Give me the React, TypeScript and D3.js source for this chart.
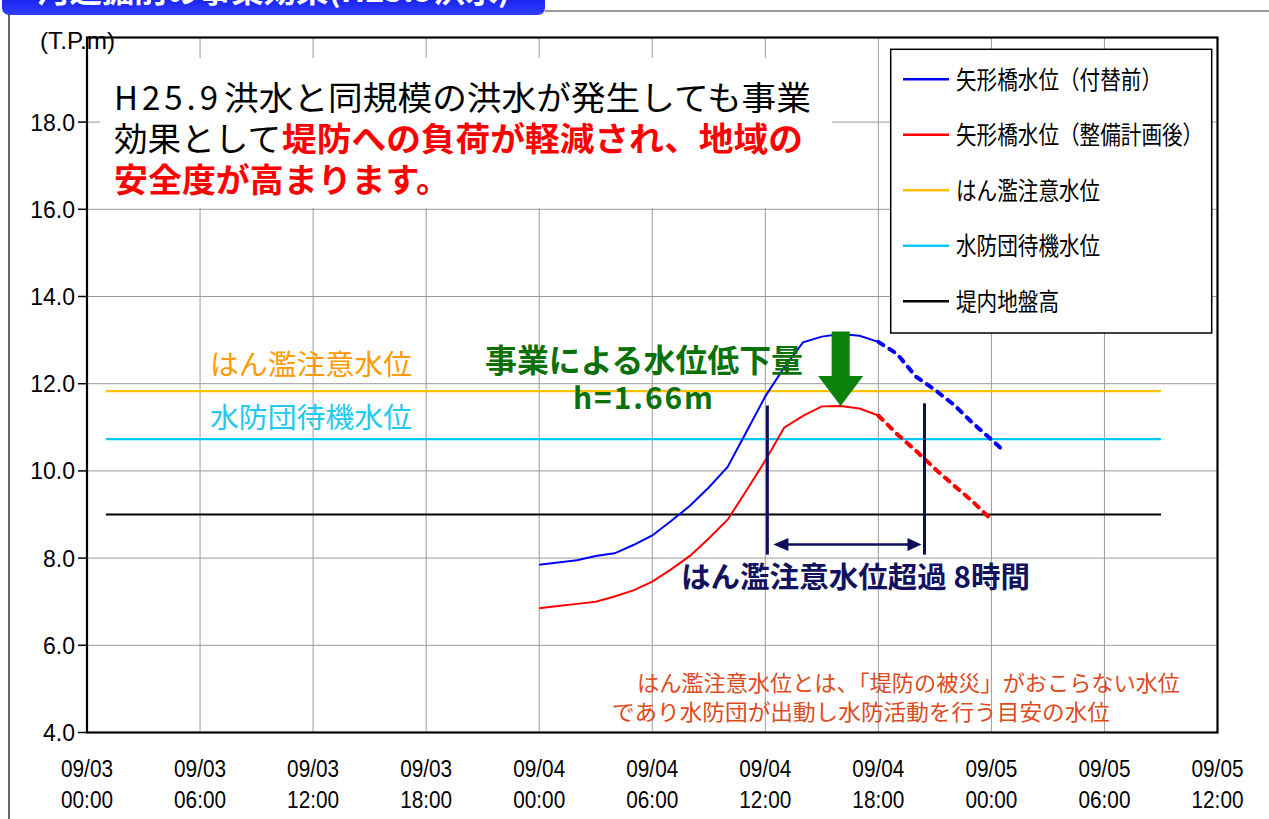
import React from 'react';
import * as d3 from 'd3';

// ---------- data ----------
const xTickHours = [0, 6, 12, 18, 24, 30, 36, 42, 48, 54, 60];
const xTickDates = ['09/03', '09/03', '09/03', '09/03', '09/04', '09/04', '09/04', '09/04', '09/05', '09/05', '09/05'];
const xTickTimes = ['00:00', '06:00', '12:00', '18:00', '00:00', '06:00', '12:00', '18:00', '00:00', '06:00', '12:00'];
const yTicks = [4, 6, 8, 10, 12, 14, 16, 18];
const yTickLabels = ['4.0', '6.0', '8.0', '10.0', '12.0', '14.0', '16.0', '18.0'];

// hours from 09/03 00:00
const beforeHours = [24, 25, 26, 27, 28, 29, 30, 31, 32, 33, 34, 35, 36, 37, 38, 39, 40, 41, 42];
const beforeLevel = [7.85, 7.9, 7.95, 8.05, 8.11, 8.3, 8.52, 8.85, 9.2, 9.62, 10.09, 10.9, 11.71, 12.37, 12.95, 13.08, 13.14, 13.1, 12.96];
const beforeForecastHours = [42, 43, 44, 45, 46, 47, 48, 48.5];
const beforeForecastLevel = [12.96, 12.68, 12.16, 11.86, 11.52, 11.1, 10.72, 10.52];

const afterHours = [24, 25, 26, 27, 28, 29, 30, 31, 32, 33, 34, 35, 36, 37, 38, 39, 40, 41, 42];
const afterLevel = [6.85, 6.9, 6.95, 7.0, 7.12, 7.26, 7.46, 7.74, 8.05, 8.45, 8.88, 9.55, 10.24, 10.99, 11.26, 11.48, 11.49, 11.43, 11.27];
const afterForecastHours = [42, 43, 44, 45, 46, 47, 48];
const afterForecastLevel = [11.27, 10.84, 10.46, 10.05, 9.67, 9.3, 8.88];

const refLineHours = [1, 57];
const warningLevel = 11.83; // はん濫注意水位
const standbyLevel = 10.73; // 水防団待機水位
const groundLevel = 9.0; // 堤内地盤高

const legendLabels = ['矢形橋水位（付替前）', '矢形橋水位（整備計画後）', 'はん濫注意水位', '水防団待機水位', '堤内地盤高'];
const legendColors = ['#0000FF', '#FF0000', '#FFC000', '#00C8FF', '#000000'];

const exceedStartHour = 36.11;
const exceedEndHour = 44.45;
const reductionHour = 40;
const reductionTop = 13.2;
const reductionBottom = 11.49;

// ---------- layout ----------
const W = 1269;
const H = 819;
const JP = '"Noto Sans CJK JP", "Noto Sans", sans-serif';
const LAT = '"Liberation Sans", Arial, sans-serif';

export default function App() {
  const x = d3.scaleLinear().domain([0, 60]).range([87, 1217.5]);
  const y = d3.scaleLinear().domain([4, 18]).range([732.5, 122.1]);
  const plotTop = y(19.94);
  const plotBottom = y(4);
  const plotLeft = x(0);
  const plotRight = x(60);

  const line = d3
    .line<[number, number]>()
    .x((d) => x(d[0]))
    .y((d) => y(d[1]));
  const zip = (hs: number[], vs: number[]) => hs.map((h, i) => [h, vs[i]] as [number, number]);

  const refLines = [
    { v: warningLevel, c: '#FFC000', w: 2.2 },
    { v: standbyLevel, c: '#00C8FF', w: 2.2 },
    { v: groundLevel, c: '#000000', w: 2 },
  ];

  const xs = x(exceedStartHour);
  const xe = x(exceedEndHour);
  const ay = y(8.31);
  const ax = x(reductionHour);
  const aTop = y(reductionTop);
  const aTip = y(reductionBottom);
  const headLen = 30;

  return (
    <svg
      width={W}
      height={H}
      style={{ position: 'absolute', left: 0, top: 0, background: '#fff' }}
      xmlns="http://www.w3.org/2000/svg"
    >
      <defs>
        <linearGradient id="tb" x1="0" y1="0" x2="0" y2="1">
          <stop offset="0" stopColor="#0000D8" />
          <stop offset="1" stopColor="#3040FF" />
        </linearGradient>
      </defs>
      <rect x={0} y={0} width={W} height={H} fill="#fff" />

      {/* outer frame */}
      <line x1={545} x2={W} y1={11} y2={11} stroke="#333" strokeWidth={1.2} />
      <line x1={9} x2={9} y1={14} y2={H} stroke="#333" strokeWidth={1.5} />
      <rect x={2} y={-20} width={543} height={35} rx={7} fill="url(#tb)" />
      <text x={37} y={2} fill="#fff" fontFamily={JP} fontWeight="bold" fontSize={30} textLength={473} lengthAdjust="spacingAndGlyphs">
        河道掘削の事業効果(H25.9洪水)
      </text>

      {/* grid */}
      {yTicks.slice(1).map((t) => (
        <line key={'gy' + t} x1={plotLeft} x2={plotRight} y1={y(t)} y2={y(t)} stroke="#9a9a9a" strokeWidth={1} />
      ))}
      {xTickHours.slice(1, -1).map((h) => (
        <line key={'gx' + h} x1={x(h)} x2={x(h)} y1={plotTop} y2={plotBottom} stroke="#9a9a9a" strokeWidth={1} />
      ))}
      {yTicks.map((t) => (
        <line key={'ty' + t} x1={plotLeft - 9} x2={plotLeft} y1={y(t)} y2={y(t)} stroke="#000" strokeWidth={1.5} />
      ))}

      {/* reference lines */}
      {refLines.map((r) => (
        <line key={'r' + r.v} x1={x(refLineHours[0])} x2={x(refLineHours[1])} y1={y(r.v)} y2={y(r.v)} stroke={r.c} strokeWidth={r.w} />
      ))}

      {/* series */}
      <path d={line(zip(beforeHours, beforeLevel)) || ''} fill="none" stroke="#0000FF" strokeWidth={2} />
      <path d={line(zip(beforeForecastHours, beforeForecastLevel)) || ''} fill="none" stroke="#0000FF" strokeWidth={4} strokeDasharray="6 7" strokeLinecap="round" />
      <path d={line(zip(afterHours, afterLevel)) || ''} fill="none" stroke="#FF0000" strokeWidth={2} />
      <path d={line(zip(afterForecastHours, afterForecastLevel)) || ''} fill="none" stroke="#FF0000" strokeWidth={4} strokeDasharray="6 7" strokeLinecap="round" />

      {/* plot frame */}
      <rect x={plotLeft} y={plotTop} width={plotRight - plotLeft} height={plotBottom - plotTop} fill="none" stroke="#000" strokeWidth={2.2} />

      {/* axis labels */}
      <text x={40} y={49} fontFamily={LAT} fontSize={24} fill="#000" textLength={75} lengthAdjust="spacingAndGlyphs">(T.P.m)</text>
      {yTicks.map((t, i) => (
        <text key={'yl' + t} x={75} y={y(t) + 8.5} textAnchor="end" fontFamily={LAT} fontSize={23} fill="#000">
          {yTickLabels[i]}
        </text>
      ))}
      {xTickHours.map((h, i) => (
        <g key={'xl' + h}>
          <text x={x(h)} y={777} textAnchor="middle" fontFamily={LAT} fontSize={23.5} fill="#000" textLength={52} lengthAdjust="spacingAndGlyphs">
            {xTickDates[i]}
          </text>
          <text x={x(h)} y={808} textAnchor="middle" fontFamily={LAT} fontSize={23.5} fill="#000" textLength={52} lengthAdjust="spacingAndGlyphs">
            {xTickTimes[i]}
          </text>
        </g>
      ))}

      {/* message box */}
      <rect x={100} y={58} width={732} height={150} fill="#fff" />
      <text x={114} y={110} fontFamily={JP} fontSize={33} fill="#000" textLength={104} lengthAdjust="spacing">H25.9</text>
      <text x={224} y={110} fontFamily={JP} fontSize={33} fill="#000" textLength={587} lengthAdjust="spacingAndGlyphs">洪水と同規模の洪水が発生しても事業</text>
      <text x={114} y={151} fontFamily={JP} fontSize={33} fill="#000" textLength={167} lengthAdjust="spacingAndGlyphs">効果として</text>
      <text x={282} y={151} fontFamily={JP} fontSize={33} fontWeight="bold" fill="#FF0000" textLength={521} lengthAdjust="spacingAndGlyphs">堤防への負荷が軽減され、地域の</text>
      <text x={114} y={192} fontFamily={JP} fontSize={33} fontWeight="bold" fill="#FF0000" textLength={336} lengthAdjust="spacingAndGlyphs">安全度が高まります。</text>

      {/* legend */}
      <rect x={890.7} y={49.3} width={321} height={283.7} fill="#fff" stroke="#000" strokeWidth={1.5} />
      {legendLabels.map((l, i) => {
        const ry = 79.3 + i * 55.5;
        return (
          <g key={'lg' + i}>
            <line x1={903} x2={949} y1={ry} y2={ry} stroke={legendColors[i]} strokeWidth={2.5} />
            <text x={956} y={ry + 9.5} fontFamily={JP} fontSize={25} fill="#000" textLength={l.length * 20.6} lengthAdjust="spacingAndGlyphs">
              {l}
            </text>
          </g>
        );
      })}

      {/* level labels */}
      <text x={210} y={374.6} fontFamily={JP} fontSize={28} fill="#FF9A00" textLength={202} lengthAdjust="spacingAndGlyphs">はん濫注意水位</text>
      <text x={210} y={427.6} fontFamily={JP} fontSize={28} fill="#22C8F0" textLength={202} lengthAdjust="spacingAndGlyphs">水防団待機水位</text>

      {/* reduction annotation */}
      <text x={485} y={372} fontFamily={JP} fontSize={32} fontWeight="bold" fill="#0A700A" textLength={318} lengthAdjust="spacingAndGlyphs">事業による水位低下量</text>
      <text x={573} y={409} fontFamily={JP} fontSize={30} fontWeight="bold" fill="#0A700A" textLength={140} lengthAdjust="spacing">h=1.66m</text>
      <path
        d={`M${ax - 9},${aTop} L${ax + 9},${aTop} L${ax + 9},${aTip - headLen} L${ax + 22.5},${aTip - headLen} L${ax},${aTip} L${ax - 22.5},${aTip - headLen} L${ax - 9},${aTip - headLen} Z`}
        fill="#0B800B"
      />

      {/* exceedance annotation */}
      <line x1={xs} x2={xs} y1={y(11.5)} y2={y(8.08)} stroke="#0D0D5E" strokeWidth={3} />
      <line x1={xe} x2={xe} y1={y(11.55)} y2={y(8.08)} stroke="#0D0D5E" strokeWidth={3} />
      <line x1={xs + 15} x2={xe - 15} y1={ay} y2={ay} stroke="#0D0D5E" strokeWidth={2.5} />
      <path d={`M${xs + 6},${ay} L${xs + 21},${ay - 6.5} L${xs + 21},${ay + 6.5} Z`} fill="#0D0D5E" />
      <path d={`M${xe - 3},${ay} L${xe - 17},${ay - 6.5} L${xe - 17},${ay + 6.5} Z`} fill="#0D0D5E" />
      <text x={681} y={588} fontFamily={JP} fontSize={29} fontWeight="bold" fill="#12125E" textLength={349} lengthAdjust="spacingAndGlyphs">はん濫注意水位超過 8時間</text>

      {/* note */}
      <text x={637} y={691} fontFamily={JP} fontSize={22} fill="#DC4A1E" textLength={543} lengthAdjust="spacingAndGlyphs">はん濫注意水位とは、「堤防の被災」がおこらない水位</text>
      <text x={612} y={719.5} fontFamily={JP} fontSize={22} fill="#DC4A1E" textLength={498} lengthAdjust="spacingAndGlyphs">であり水防団が出動し水防活動を行う目安の水位</text>
    </svg>
  );
}
